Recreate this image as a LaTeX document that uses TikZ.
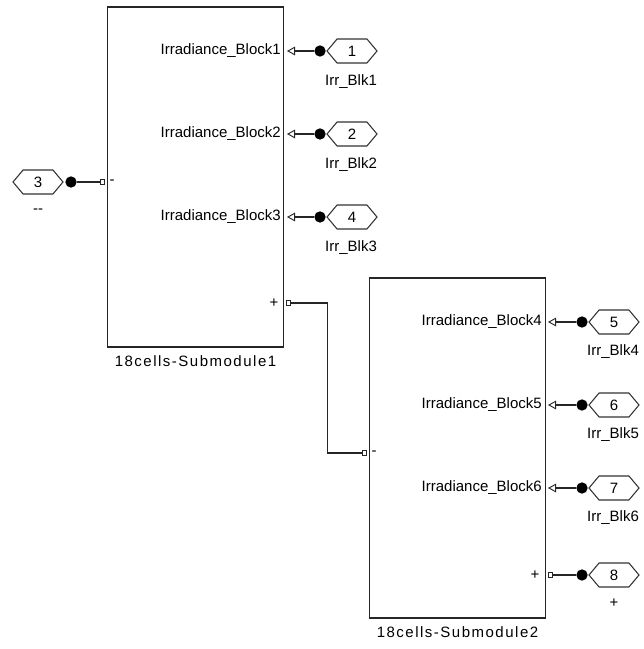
\documentclass[tikz,border=0pt]{standalone}
\usepackage{fontspec}
\setmainfont{Liberation Sans}
\usetikzlibrary{arrows.meta, shapes.symbols}

\begin{document}
\begin{tikzpicture}[x=0.75pt, y=-0.75pt,
    subsys/.style={draw=black!85, line width=1.4pt, minimum width=132pt, minimum height=255.5pt, inner sep=0pt},
    tagbox/.style={signal, signal to=east and west, signal pointer angle=100, draw=black!80, line width=0.8pt,
      minimum width=37.5pt, minimum height=18pt, inner sep=0pt, font=\fontsize{11.25}{12}\selectfont},
    joint/.style={circle, fill=black, minimum size=8.5pt, inner sep=0pt},
    portbox/.style={rectangle, draw=black!85, line width=0.7pt, minimum width=3pt, minimum height=3.5pt, inner sep=0pt},
    lbl/.style={font=\fontsize{11.25}{12}\selectfont, inner sep=0pt},
    blocklbl/.style={inner sep=0pt, font=\fontsize{11.25}{12}\selectfont\addfontfeature{LetterSpace=10}},
    wire/.style={draw=black!85, line width=1.1pt},
    feed/.style={wire, {Triangle[open, length=6pt, width=6.5pt, line width=0.7pt]}-}
  ]
    \useasboundingbox (0,0) rectangle (643,649);

    \node[subsys] (sub1) at (195.5,177) {};
    \node[subsys] (sub2) at (457.5,448) {};
    \node[blocklbl, below] (sub1name) at (195.5,355) {18cells-Submodule1};
    \node[blocklbl, below] (sub2name) at (457.5,626) {18cells-Submodule2};

    % irradiance inputs of the first submodule
    \foreach \n/\y/\k in {1/51/1, 2/134/2, 3/217/4} {
      \node[lbl, anchor=east] (irr\n) at (281,\y) {Irradiance\_Block\n};
      \coordinate (in\n) at (287,\y);
      \node[tagbox] (tag\n) at (352,\y) {\k};
      \node[joint] (dot\n) at (320,\y) {};
      \node[lbl] (tagname\n) at (351,\y+31) {Irr\_Blk\n};
      \draw[feed] (in\n) -- (dot\n);
    }

    % irradiance inputs of the second submodule
    \foreach \n/\y/\k in {4/322/5, 5/405/6, 6/488/7} {
      \node[lbl, anchor=east] (irr\n) at (542,\y) {Irradiance\_Block\n};
      \coordinate (in\n) at (548,\y);
      \node[tagbox] (tag\n) at (614,\y) {\k};
      \node[joint] (dot\n) at (582,\y) {};
      \node[lbl] (tagname\n) at (613,\y+30) {Irr\_Blk\n};
      \draw[feed] (in\n) -- (dot\n);
    }

    % minus terminal
    \node[tagbox] (tagm) at (38,182) {3};
    \node[joint] (dotm) at (71,182) {};
    \node[lbl] (tagmname) at (38,211) {-{}-};
    \node[portbox] (sub1m) at (102,182) {};
    \node[lbl] at (112,182) {-};
    \draw[wire] (dotm) -- (sub1m);

    % series link
    \node[portbox] (sub1p) at (288,303) {};
    \node[lbl] at (274,303) {+};
    \node[portbox] (sub2m) at (364.5,453) {};
    \node[lbl] at (374,453) {-};
    \draw[wire] (sub1p.east) -- ++(37,0) |- (sub2m.west);

    % plus terminal
    \node[portbox] (sub2p) at (550,575) {};
    \node[lbl] at (535,575) {+};
    \node[joint] (dotp) at (582,575) {};
    \node[tagbox] (tagp) at (614,575) {8};
    \node[lbl] (tagpname) at (614,603) {+};
    \draw[wire] (sub2p) -- (dotp);
  \end{tikzpicture}
\end{document}
